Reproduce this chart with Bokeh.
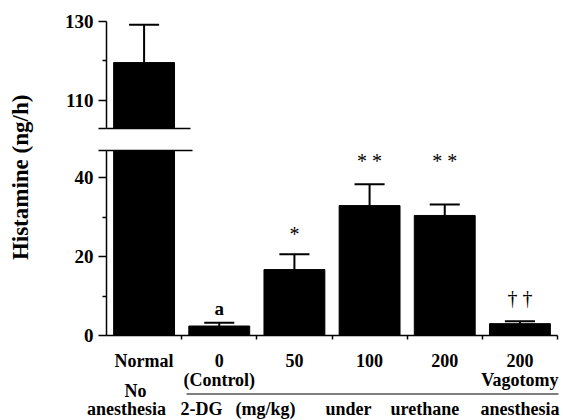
import math
from bokeh.plotting import figure
from bokeh.models import (Range1d, FixedTicker, Label, LinearAxis, ColumnDataSource,
                          CDSView, BooleanFilter)
from bokeh.layouts import row, column
from bokeh.embed import file_html
from bokeh.resources import INLINE
from bokeh.core.properties import value

# ---------------- data ----------------
categories = ["Normal", "0", "50", "100", "200", "200"]
sublabels = ["", "(Control)", "", "", "", "Vagotomy"]
histamine = [119.6, 2.4, 16.7, 32.9, 30.4, 3.0]      # ng/h (bar height)
error_top = [129.2, 3.2, 20.6, 38.3, 33.2, 3.6]      # mean + SEM
marks = ["", "a", "*", "* *", "* *", "\u2020 \u2020"]
mark_y = [0, 6.9, 25.7, 44.3, 44.3, 9.4]
upper_ticks = [110, 130]
upper_minor = [120]
lower_ticks = [0, 20, 40]
lower_minor = [10, 30]
group_words = ["2-DG", "(mg/kg)", "under", "urethane", "anesthesia"]

UPPER_RANGE = (102.9, 130)
LOWER_RANGE = (0, 46.85)

# ---------------- layout constants (pixels) ----------------
FONT = "Liberation Serif"
TITLE_W = 40
FRAME_L, FRAME_R, PAGE_W = 106, 557, 563
UNIT = (FRAME_R - FRAME_L) / 6.0
TOP_H = 139
LOWER_FRAME_BOTTOM = 335
BOT_BORDER = 12
LABELS_TOP = LOWER_FRAME_BOTTOM + BOT_BORDER


def px2cat(px):
    return (px - FRAME_L) / UNIT


xs = [i + 0.5 for i in range(len(categories))]
BAR_W = 0.81
CAP = 0.2
xr = Range1d(0, 6)

src = ColumnDataSource(dict(
    x=xs, top=histamine, err=error_top,
    cl=[x - CAP for x in xs], cr=[x + CAP for x in xs],
))


def style_yaxis(p, ticks, minor, break_at):
    ax = p.yaxis[0]
    # the axis break gets an unlabeled tick, continuing the break mark to the left
    ax.ticker = FixedTicker(ticks=ticks + [break_at], minor_ticks=minor)
    ax.major_label_overrides = {break_at: ""}
    ax.major_tick_out = 8
    ax.major_tick_in = 0
    ax.minor_tick_out = 4
    ax.minor_tick_in = 0
    ax.axis_line_width = 1.5
    ax.major_tick_line_width = 1.5
    ax.minor_tick_line_width = 1.5
    ax.major_label_text_font = FONT
    ax.major_label_text_font_style = "bold"
    ax.major_label_text_font_size = "19px"
    ax.major_label_text_color = "black"
    ax.major_label_standoff = 5


def plain_xaxis(ax, ticks, bounds="auto"):
    ax.ticker = FixedTicker(ticks=ticks, minor_ticks=[])
    ax.bounds = bounds
    ax.major_tick_out = 4 if ticks else 0
    ax.major_tick_in = 0
    ax.minor_tick_line_color = None
    ax.axis_line_width = 1.5
    ax.major_tick_line_width = 1.5
    ax.major_label_text_color = None
    ax.major_label_text_font_size = "1px"
    ax.major_label_standoff = 0


def draw_bars(p, view=None):
    kw = dict(source=src)
    if view is not None:
        kw["view"] = view
    p.vbar(x="x", top="top", bottom=0, width=BAR_W, fill_color="black", line_color="black", **kw)
    p.segment(x0="x", y0="top", x1="x", y1="err", line_color="black", line_width=2, **kw)
    p.segment(x0="cl", y0="err", x1="cr", y1="err", line_color="black", line_width=2, **kw)


# ---------------- title panel ----------------
tf = figure(width=TITLE_W, height=LABELS_TOP, x_range=Range1d(0, TITLE_W),
            y_range=Range1d(LABELS_TOP, 0),
            x_axis_location=None, y_axis_location=None, toolbar_location=None,
            output_backend="svg", min_border=0)
tf.grid.visible = False
tf.outline_line_color = None
tf.add_layout(Label(x=20, y=174, text="Histamine  (ng/h)", angle=math.pi / 2,
                    text_align="center", text_baseline="middle", text_font=FONT,
                    text_font_size="23px", text_font_style="bold", text_color="black"))

# ---------------- upper panel ----------------
top = figure(width=PAGE_W - TITLE_W, height=TOP_H, x_range=xr, y_range=Range1d(*UPPER_RANGE),
             toolbar_location=None, output_backend="svg",
             min_border_left=FRAME_L - TITLE_W, min_border_right=PAGE_W - FRAME_R,
             min_border_top=21, min_border_bottom=11)
top.grid.visible = False
top.outline_line_color = None
style_yaxis(top, upper_ticks, upper_minor, UPPER_RANGE[0])
plain_xaxis(top.xaxis[0], [], bounds=(0, px2cat(190)))
upper_view = CDSView(filter=BooleanFilter([h > UPPER_RANGE[0] for h in histamine]))
draw_bars(top, upper_view)

# ---------------- lower panel ----------------
bot = figure(width=PAGE_W - TITLE_W, height=LOWER_FRAME_BOTTOM - TOP_H + BOT_BORDER,
             x_range=xr, y_range=Range1d(*LOWER_RANGE),
             toolbar_location=None, output_backend="svg",
             min_border_left=FRAME_L - TITLE_W, min_border_right=PAGE_W - FRAME_R,
             min_border_top=11, min_border_bottom=BOT_BORDER)
bot.grid.visible = False
bot.outline_line_color = None
style_yaxis(bot, lower_ticks, lower_minor, LOWER_RANGE[1])
plain_xaxis(bot.xaxis[0], [1, 2, 3, 4, 5, 6])
brk = LinearAxis()
plain_xaxis(brk, [], bounds=(0, px2cat(192)))
bot.add_layout(brk, "above")
draw_bars(bot)

for x, m, y in zip(xs, marks, mark_y):
    if m:
        bold = "bold" if m == "a" else "normal"
        size = "19px" if m == "a" else "20px"
        bot.add_layout(Label(x=x, y=y, text=m, text_align="center", text_baseline="middle",
                             text_font=FONT, text_font_size=size, text_font_style=bold,
                             text_color="black"))

# ---------------- category labels panel ----------------
lab = figure(width=PAGE_W, height=420 - LABELS_TOP,
             x_range=Range1d(px2cat(0), px2cat(PAGE_W)), y_range=Range1d(420, LABELS_TOP),
             x_axis_location=None, y_axis_location=None, toolbar_location=None,
             output_backend="svg", min_border=0)
lab.grid.visible = False
lab.outline_line_color = None

txt = dict(text_font=value(FONT), text_font_size=value("18px"), text_font_style="bold",
           text_color="black", text_baseline="middle")
lab.text(x=xs, y=[360] * len(xs), text=categories, text_align="center", **txt)
sub_x = [x for x, s in zip(xs, sublabels) if s]
sub_t = [s for s in sublabels if s]
lab.text(x=sub_x, y=[379] * len(sub_x), text=sub_t, text_align="center", **txt)
lab.text(x=[px2cat(135)], y=[390], text=["No"], text_align="center", **txt)
lab.text(x=[px2cat(126)], y=[408], text=["anesthesia"], text_align="center", **txt)
lab.segment(x0=[px2cat(186)], y0=[393.5], x1=[px2cat(558)], y1=[393.5],
            line_color="black", line_width=1.2)
word_px = [180, 235, 325, 390, 480]
lab.text(x=[px2cat(p) for p in word_px], y=[408] * len(word_px), text=group_words,
         text_align="left", **txt)

layout = column(row(tf, column(top, bot)), lab)
open("out.html", "w").write(file_html(layout, INLINE))
